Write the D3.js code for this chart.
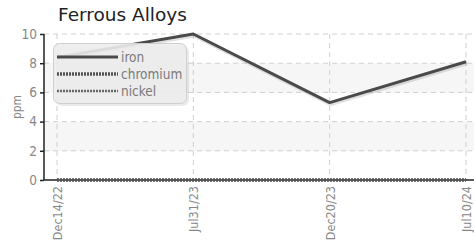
<!DOCTYPE html>
<html><head><meta charset="utf-8">
<script src="https://cdn.jsdelivr.net/npm/d3@7"></script>
<style>
body{margin:0;background:#fff;}
svg{display:block;}
.cond{font-family:"Liberation Sans Narrow","DejaVu Sans Condensed","Roboto Condensed",sans-serif;}
</style></head>
<body>
<svg id="c" width="474" height="243"></svg>
<script>
const dates = ["Dec14/22","Jul31/23","Dec20/23","Jul10/24"];
const iron = [8.4, 10, 5.3, 8.1];
const chromium = [0, 0, 0, 0];
const nickel = [0, 0, 0, 0];
const yTicks = [0, 2, 4, 6, 8, 10];
const seriesNames = ["iron","chromium","nickel"];

const svg = d3.select("#c");
const W = 474, H = 243;
const m = {l:44, r:0, t:34, b:63};
const x = d3.scalePoint().domain(dates).range([57, 466]);
const y = d3.scaleLinear().domain([0,10]).range([180, 34]);

// bands
svg.append("g").selectAll("rect").data([[2,4],[6,8]]).join("rect")
  .attr("x", m.l).attr("width", W - m.l)
  .attr("y", d => y(d[1])).attr("height", d => y(d[0]) - y(d[1]))
  .attr("fill", "#f6f6f6");

// grid
const g = svg.append("g");
g.selectAll(".hg").data(yTicks.filter(v=>v>0)).join("line")
  .attr("x1", m.l).attr("x2", W).attr("y1", d=>y(d)).attr("y2", d=>y(d))
  .attr("stroke","#d0d0d0").attr("stroke-dasharray","5,4");
g.selectAll(".vg").data(dates).join("line")
  .attr("x1", d=>x(d)).attr("x2", d=>x(d)).attr("y1", y(10)).attr("y2", y(0))
  .attr("stroke","#d0d0d0").attr("stroke-dasharray","5,4");

// axes
const ya = svg.append("g").attr("transform",`translate(${m.l},0)`)
  .call(d3.axisLeft(y).tickValues(yTicks).tickSize(4).tickPadding(3));
ya.select(".domain").attr("stroke","#222").attr("stroke-width",1.5).attr("d",`M0,${y(10)}V${y(0)}`);
ya.selectAll(".tick line").attr("stroke","#222").attr("stroke-width",1.5);
ya.selectAll(".tick text").attr("class","cond").attr("fill","#888").style("font-size","13.5px");

const xa = svg.append("g").attr("transform",`translate(0,${y(0)})`)
  .call(d3.axisBottom(x).tickSize(0).tickPadding(0));
xa.select(".domain").attr("stroke","#222").attr("stroke-width",1.5).attr("d",`M${m.l},0H${W}`);
xa.selectAll(".tick text").attr("class","cond").attr("fill","#888").style("font-size","12.5px")
  .attr("text-anchor","end").attr("transform","rotate(-90)").attr("x",-6).attr("y",0).attr("dy","0.35em");

svg.append("text").attr("class","cond").attr("transform",`translate(21,107) rotate(-90)`)
  .attr("text-anchor","middle").attr("fill","#888").style("font-size","12px").text("ppm");

// lines
const line = d3.line().x((d,i)=>x(dates[i])).y(d=>y(d));
const styles = {
  iron:{stroke:"#4a4a4a", w:3, dash:null},
  chromium:{stroke:"#555", w:3.5, dash:"2,1"},
  nickel:{stroke:"#666", w:2.5, dash:"2,1"}
};
const data = {iron, chromium, nickel};
// shadow for iron
svg.append("path").datum(iron).attr("d",line).attr("fill","none")
  .attr("stroke","#000").attr("stroke-opacity",0.12).attr("stroke-width",4)
  .attr("transform","translate(1,1.5)");
["nickel","chromium","iron"].forEach(k=>{
  const s = styles[k];
  svg.append("path").datum(data[k]).attr("d",line).attr("fill","none")
    .attr("stroke",s.stroke).attr("stroke-width",s.w)
    .attr("stroke-dasharray",s.dash).attr("stroke-linejoin","round");
});

// legend
const lg = svg.append("g");
lg.append("rect").attr("x",55).attr("y",45).attr("width",133).attr("height",60).attr("rx",6)
  .attr("fill","#000").attr("opacity",0.08).attr("transform","translate(1,1)");
lg.append("rect").attr("x",53.5).attr("y",43.5).attr("width",133).attr("height",60).attr("rx",6)
  .attr("fill","#ededed").attr("fill-opacity",0.9).attr("stroke","#cfcfcf");
seriesNames.forEach((k,i)=>{
  const s = styles[k];
  const yy = 57 + i*17;
  lg.append("line").attr("x1",57).attr("x2",118).attr("y1",yy).attr("y2",yy)
    .attr("stroke",s.stroke).attr("stroke-width",s.w).attr("stroke-dasharray",s.dash);
  lg.append("text").attr("class","cond").attr("x",121).attr("y",yy).attr("dy","0.35em")
    .attr("fill","#7a7a7a").style("font-size","13.5px").text(k);
});

// title
svg.append("text").attr("x",58).attr("y",21).attr("fill","#222")
  .style("font-family","'DejaVu Sans',sans-serif").style("font-size","18.5px").text("Ferrous Alloys");
</script>
</body></html>
